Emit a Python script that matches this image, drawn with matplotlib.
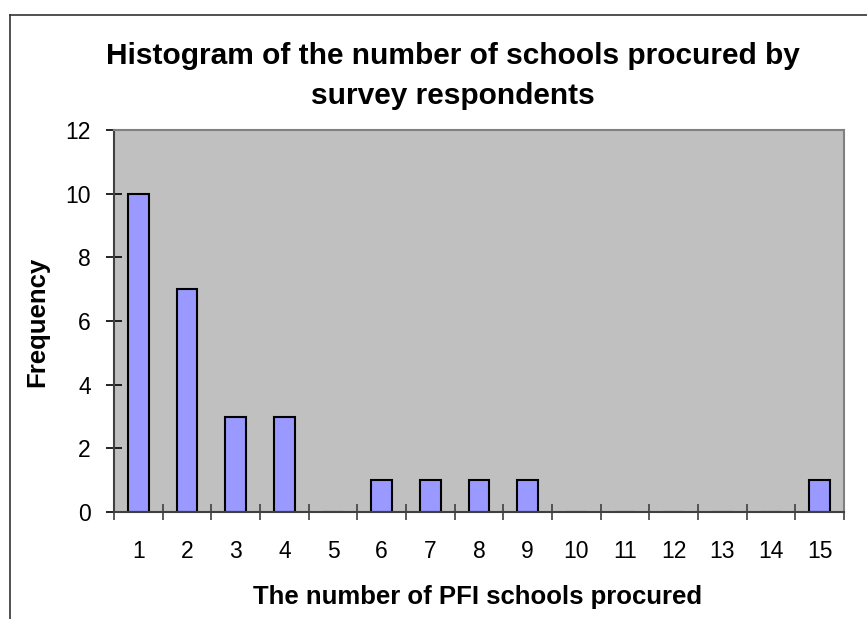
import matplotlib
matplotlib.use("Agg")
import matplotlib.pyplot as plt
from matplotlib.lines import Line2D

plt.rcParams['font.family'] = ['Liberation Sans', 'DejaVu Sans']

categories = ["1", "2", "3", "4", "5", "6", "7", "8", "9", "10", "11", "12", "13", "14", "15"]
frequency = [10, 7, 3, 3, 0, 1, 1, 1, 1, 0, 0, 0, 0, 0, 1]
y_ticks = [0, 2, 4, 6, 8, 10, 12]

W, H = 867, 619
fig = plt.figure(figsize=(W / 100, H / 100), dpi=100)
fig.patch.set_facecolor('white')

ax = fig.add_axes([114 / W, 1 - 512 / H, (844 - 114) / W, (512 - 130) / H])
ax.set_facecolor('#C0C0C0')

pos = list(range(1, len(categories) + 1))
ax.bar(pos, frequency, width=0.43, color='#9999FF', edgecolor='black', linewidth=1.5, zorder=2)

ax.set_xlim(0.5, len(categories) + 0.5)
ax.set_ylim(0, 12)

# Tick marks sit on category boundaries; labels sit at category centres
ax.set_xticks([p - 0.5 for p in pos] + [len(categories) + 0.5])
ax.set_xticklabels([])
ax.set_xticks(pos, minor=True)
ax.set_xticklabels(categories, minor=True, fontsize=16.5)
ax.tick_params(axis='x', which='major', direction='inout', length=11.5, width=1.2, color='#404040')
ax.tick_params(axis='x', which='minor', length=0, pad=20)

ax.set_yticks(y_ticks)
ax.set_yticklabels([str(v) for v in y_ticks], fontsize=16.5)
ax.tick_params(axis='y', direction='inout', length=11.5, width=1.2, color='black', pad=11)

for side in ('left', 'bottom'):
    ax.spines[side].set_color('#404040')
    ax.spines[side].set_linewidth(1.5)
for side in ('top', 'right'):
    ax.spines[side].set_color('#808080')
    ax.spines[side].set_linewidth(1.5)

fig.text(453 / W, 1 - 76 / H, "Histogram of the number of schools procured by\nsurvey respondents",
         ha='center', va='center', fontsize=21.5, fontweight='bold', linespacing=1.5)
fig.text(478 / W, 1 - 597 / H, "The number of PFI schools procured",
         ha='center', va='center', fontsize=18.5, fontweight='bold')
fig.text(37 / W, 1 - 322 / H, "Frequency", rotation=90,
         ha='center', va='center', fontsize=18.5, fontweight='bold')

# Outer chart frame (left and top edges)
fig.add_artist(Line2D([10 / W, 10 / W], [0, 1 - 15 / H], transform=fig.transFigure, color='#333333', lw=1.2))
fig.add_artist(Line2D([10 / W, 1], [1 - 15 / H, 1 - 15 / H], transform=fig.transFigure, color='#333333', lw=1.2))

fig.savefig("out.png", dpi=100)
